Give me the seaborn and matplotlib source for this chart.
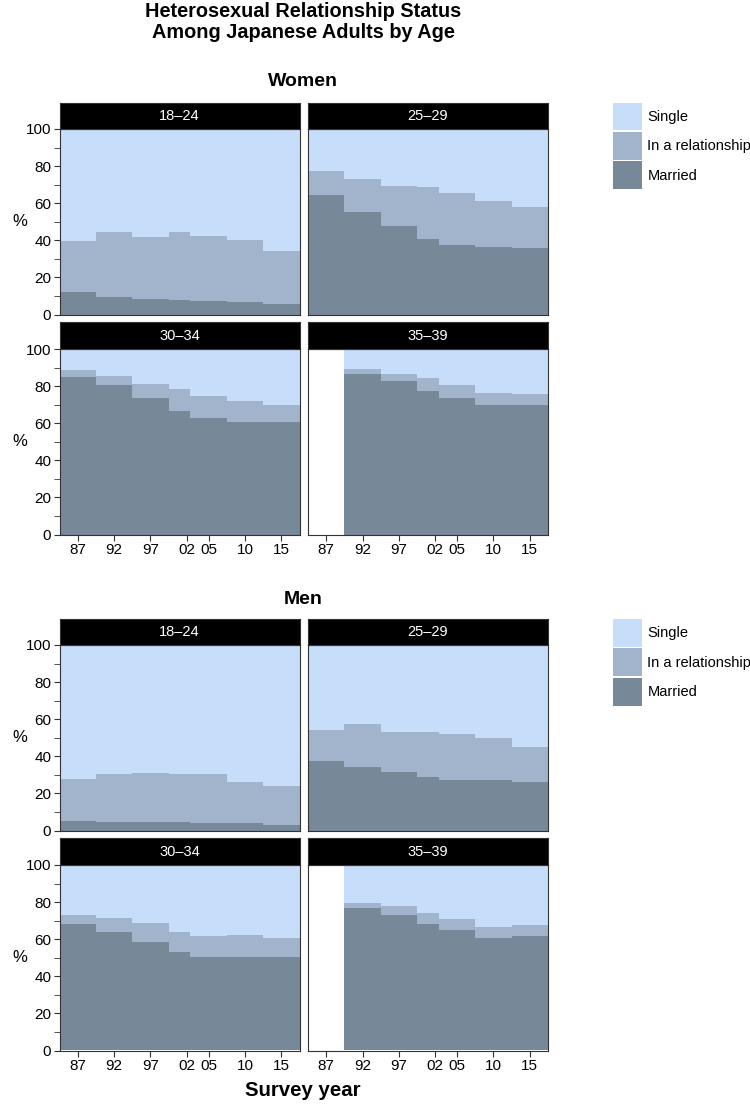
import numpy as np
import pandas as pd
import matplotlib.pyplot as plt
import seaborn as sns
from matplotlib.patches import Patch

# survey years and labels
years = np.array([1987, 1992, 1997, 2002, 2005, 2010, 2015])
year_labels = ['87', '92', '97', '02', '05', '10', '15']
age_groups = ['18–24', '25–29', '30–34', '35–39']
statuses = ['Single', 'In a relationship', 'Married']
status_colors = ['#C7DEFB', '#A2B4CB', '#778899']

# % married, one row per age group (nan = not surveyed)
women_married = [
    [12.1, 9.7, 8.3, 7.6, 7.2, 6.5, 5.6],
    [64.3, 55.3, 47.7, 40.9, 37.5, 36.6, 35.7],
    [84.9, 80.6, 73.6, 66.4, 62.6, 60.4, 60.5],
    [np.nan, 86.4, 83.0, 77.4, 73.8, 69.8, 69.7],
]
# % in a relationship
women_relationship = [
    [27.7, 34.6, 33.7, 36.7, 35.1, 33.5, 28.5],
    [12.8, 17.9, 21.5, 27.9, 28.1, 24.7, 22.3],
    [3.8, 4.7, 7.7, 11.8, 11.9, 11.4, 9.1],
    [np.nan, 2.6, 3.7, 7.1, 6.6, 6.3, 5.9],
]
men_married = [
    [5.2, 4.7, 4.7, 4.5, 4.3, 3.9, 3.2],
    [37.7, 34.2, 31.5, 28.6, 27.0, 27.0, 25.9],
    [68.2, 63.7, 58.6, 53.2, 50.4, 50.2, 50.4],
    [np.nan, 76.8, 73.0, 68.3, 65.0, 60.7, 61.6],
]
men_relationship = [
    [22.6, 25.8, 26.3, 26.2, 26.0, 22.1, 20.7],
    [16.5, 23.4, 21.8, 24.7, 25.1, 23.1, 19.1],
    [4.6, 7.7, 10.1, 10.6, 11.5, 11.9, 10.0],
    [np.nan, 2.8, 4.7, 5.6, 5.8, 6.0, 6.0],
]

sns.set_style('ticks')
plt.rcParams['font.family'] = ['Liberation Sans', 'DejaVu Sans']
plt.rcParams['text.color'] = 'black'

W, H = 750, 1105
fig = plt.figure(figsize=(W / 100, H / 100), dpi=100)

# each survey covers +-2.5 years, later surveys take over
edges = [float(y) - 2.5 for y in years] + [float(years[-1]) + 2.5]


def add_ax(x0, x1, y0, y1):
    return fig.add_axes([x0 / W, 1 - y1 / H, (x1 - x0) / W, (y1 - y0) / H])


def draw_block(married, relationship, top, legend_top):
    cols = [(59.5, 299.5), (308, 548)]
    rows = [(top, top + 26, top + 211.5), (top + 219, top + 246, top + 431.5)]
    for i, age in enumerate(age_groups):
        r, c = divmod(i, 2)
        x0, x1 = cols[c]
        s0, s1, y1 = rows[r]
        m = np.array(married[i])
        rel = np.array(relationship[i])
        single = 100 - m - rel
        ok = ~np.isnan(m)
        ax = add_ax(x0, x1, s1, y1)
        layers = [m + rel + single, m + rel, m]
        for vals, col in zip(layers, status_colors):
            df = pd.DataFrame({'year': years[ok], 'pct': vals[ok]})
            sns.histplot(data=df, x='year', weights='pct', bins=edges, element='step',
                         fill=True, color=col, alpha=1, linewidth=0, ax=ax)
        ax.set_xlim(edges[0], edges[-1])
        ax.set_ylim(0, 100)
        ax.set_xlabel('')
        ax.set_ylabel('')
        for sp in ax.spines.values():
            sp.set_color('#333333')
            sp.set_linewidth(0.8)
        ax.tick_params(length=4, color='#333333', labelsize=11, labelcolor='black', pad=2)
        ax.set_xticks(years)
        if r == 1:
            ax.set_xticklabels(year_labels)
        else:
            ax.tick_params(axis='x', bottom=False, labelbottom=False)
        if c == 0:
            ax.set_yticks([0, 20, 40, 60, 80, 100])
            ax.set_yticks([10, 30, 50, 70, 90], minor=True)
            ax.tick_params(axis='y', which='minor', length=4, color='#333333', left=True)
        else:
            ax.tick_params(axis='y', left=False, labelleft=False)
        # strip
        sax = add_ax(x0, x1, s0, s1)
        sax.set_facecolor('black')
        sax.set_xticks([])
        sax.set_yticks([])
        for sp in sax.spines.values():
            sp.set_color('#333333')
        sax.text(0.5, 0.5, age, color='white', fontsize=10.5, ha='center', va='center',
                 transform=sax.transAxes)
    for s0, s1, y1 in rows:
        fig.text(20 / W, 1 - (s1 + y1) / 2 / H, '%', fontsize=12, ha='center', va='center')

    handles = [Patch(facecolor=c, edgecolor='none') for c in status_colors]
    fig.legend(handles, statuses, loc='upper left',
               bbox_to_anchor=(613 / W, 1 - legend_top / H), frameon=False,
               fontsize=10.5, handlelength=2.0, handleheight=2.55, labelspacing=0.12,
               handletextpad=0.35, borderpad=0, borderaxespad=0, labelcolor='black')


fig.text(303 / W, 1 - 22 / H, 'Heterosexual Relationship Status\nAmong Japanese Adults by Age',
         fontsize=14.3, fontweight='bold', ha='center', va='center', linespacing=1.1)
fig.text(303 / W, 1 - 82 / H, 'Women', fontsize=14, fontweight='bold', ha='center', va='center')
draw_block(women_married, women_relationship, 103, 102.5)
fig.text(303 / W, 1 - 600 / H, 'Men', fontsize=14, fontweight='bold', ha='center', va='center')
draw_block(men_married, men_relationship, 619, 619)
fig.text(303 / W, 1 - 1091 / H, 'Survey year', fontsize=14.7, fontweight='bold', ha='center', va='center')

fig.savefig('out.png', dpi=100)
